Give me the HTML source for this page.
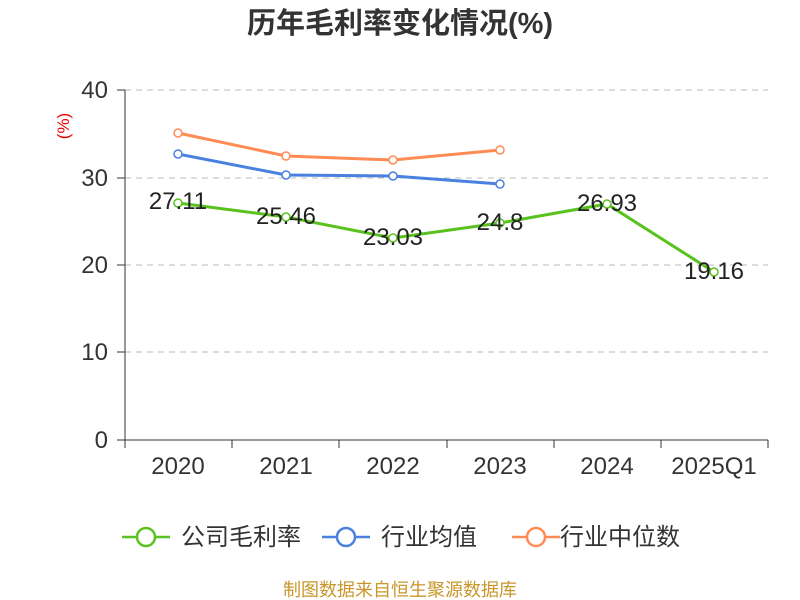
<!DOCTYPE html>
<html><head><meta charset="utf-8"><style>body{margin:0;background:#fff}svg{display:block}</style></head><body>
<svg width="800" height="600" xmlns="http://www.w3.org/2000/svg" font-family="Liberation Sans, Noto Sans CJK SC, sans-serif">
<text x="400" y="33" text-anchor="middle" font-size="29" font-weight="bold" fill="#333">历年毛利率变化情况(%)</text>
<text transform="translate(69,126) rotate(-90)" text-anchor="middle" font-size="17" fill="#e00">(%)</text>
<g stroke="#bbb" stroke-dasharray="6,5" stroke-width="1">
<line x1="125" y1="90" x2="768" y2="90"/><line x1="125" y1="178" x2="768" y2="178"/><line x1="125" y1="265" x2="768" y2="265"/><line x1="125" y1="352" x2="768" y2="352"/>
</g>
<g stroke="#333" stroke-width="1">
<line x1="125" y1="90" x2="125" y2="440"/><line x1="125" y1="440" x2="768" y2="440"/>
<line x1="117" y1="90" x2="125" y2="90"/><line x1="117" y1="178" x2="125" y2="178"/><line x1="117" y1="265" x2="125" y2="265"/><line x1="117" y1="352" x2="125" y2="352"/><line x1="117" y1="440" x2="125" y2="440"/>
<line x1="125" y1="440" x2="125" y2="448"/><line x1="232" y1="440" x2="232" y2="448"/><line x1="339" y1="440" x2="339" y2="448"/><line x1="447" y1="440" x2="447" y2="448"/><line x1="554" y1="440" x2="554" y2="448"/><line x1="661" y1="440" x2="661" y2="448"/><line x1="768" y1="440" x2="768" y2="448"/>
</g>
<g font-size="24" fill="#333" text-anchor="end">
<text x="108" y="98">40</text><text x="108" y="186">30</text><text x="108" y="273">20</text><text x="108" y="360">10</text><text x="108" y="448">0</text>
</g>
<g font-size="24" fill="#333" text-anchor="middle">
<text x="178" y="474">2020</text><text x="286" y="474">2021</text><text x="393" y="474">2022</text><text x="500" y="474">2023</text><text x="607" y="474">2024</text><text x="714" y="474">2025Q1</text>
</g>
<g fill="none" stroke-width="3">
<polyline stroke="#ff8c55" points="178,133 286,156 393,160 500,150"/>
<polyline stroke="#4a80e0" points="178,154 286,175 393,176 500,184"/>
<polyline stroke="#5ac21e" points="178,203 286,217 393,238 500,223 607,204 714,272"/>
</g>
<g fill="#fff" stroke-width="1.5">
<g stroke="#ff8c55"><circle cx="178" cy="133" r="4"/><circle cx="286" cy="156" r="4"/><circle cx="393" cy="160" r="4"/><circle cx="500" cy="150" r="4"/></g>
<g stroke="#4a80e0"><circle cx="178" cy="154" r="4"/><circle cx="286" cy="175" r="4"/><circle cx="393" cy="176" r="4"/><circle cx="500" cy="184" r="4"/></g>
<g stroke="#5ac21e"><circle cx="178" cy="203" r="4"/><circle cx="286" cy="217" r="4"/><circle cx="393" cy="238" r="4"/><circle cx="500" cy="223" r="4"/><circle cx="607" cy="204" r="4"/><circle cx="714" cy="272" r="4"/></g>
</g>
<g font-size="24" fill="#222" text-anchor="middle">
<text x="178" y="209">27.11</text><text x="286" y="224">25.46</text><text x="393" y="245">23.03</text><text x="500" y="230">24.8</text><text x="607" y="211">26.93</text><text x="714" y="279">19.16</text>
</g>
<g stroke-width="2.5" fill="#fff">
<line x1="122" y1="537" x2="170" y2="537" stroke="#5ac21e"/><circle cx="146" cy="537" r="9" stroke="#5ac21e"/>
<line x1="322" y1="537" x2="370" y2="537" stroke="#4a80e0"/><circle cx="346" cy="537" r="9" stroke="#4a80e0"/>
<line x1="512" y1="537" x2="560" y2="537" stroke="#ff8c55"/><circle cx="536" cy="537" r="9" stroke="#ff8c55"/>
</g>
<g font-size="24" fill="#333">
<text x="181" y="545">公司毛利率</text><text x="381" y="545">行业均值</text><text x="560" y="545">行业中位数</text>
</g>
<text x="400" y="596" text-anchor="middle" font-size="18" fill="#c8962a">制图数据来自恒生聚源数据库</text>
</svg>
</body></html>
